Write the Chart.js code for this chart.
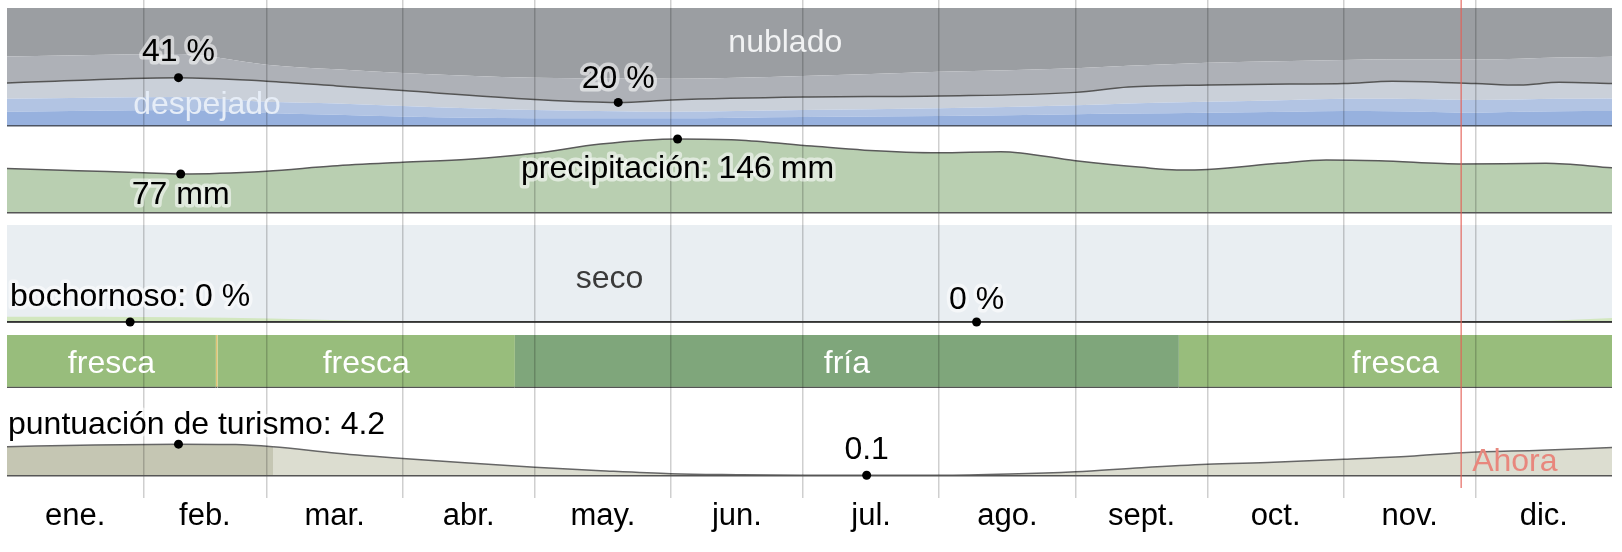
<!DOCTYPE html>
<html>
<head>
<meta charset="utf-8">
<script src="https://cdn.jsdelivr.net/npm/chart.js@4.4.1/dist/chart.umd.min.js"></script>
<style>
  html, body { margin: 0; background: #fff; }
  #wrap { position: relative; width: 1622px; height: 552px; }
</style>
</head>
<body>
<div id="wrap"><canvas id="chart"></canvas></div>
<script>
// --- eje de tiempo (día del año) ---
const monthNames = ['ene.', 'feb.', 'mar.', 'abr.', 'may.', 'jun.', 'jul.', 'ago.', 'sept.', 'oct.', 'nov.', 'dic.'];
const monthStarts = [0, 31, 59, 90, 120, 151, 181, 212, 243, 273, 304, 334, 365];

// --- nubosidad: % acumulado desde abajo ---
const cloudDays       = [0, 39, 59, 75, 90, 120, 139, 151, 181, 212, 243, 255, 273, 292, 304, 315, 334, 344, 353, 365];
const clearPct        = [12, 13.5, 11, 9.5, 8, 6.5, 6.5, 6.5, 7.6, 8.5, 10, 10.5, 11.3, 12, 12.7, 12.5, 11.3, 12, 12.5, 12.7];
const mostlyClearPct  = [23, 24.5, 20.5, 19, 17, 13.5, 12.5, 12, 13.5, 15, 17.5, 19, 20.5, 22, 23, 23, 22, 22.5, 23, 23.4];
const partlyCloudyPct = [36.5, 41, 38, 34, 30, 22.5, 20, 22, 24.5, 25.4, 28.5, 33, 34.7, 35.6, 36, 38, 36, 34.7, 37, 36];
const mostlyCloudyPct = [59, 61, 52, 48, 45, 41, 40.5, 40, 42.4, 46, 49, 51, 53.7, 55, 56, 56.5, 56.5, 57, 58, 58.8];
const overcastPct     = [100, 100];
const overcastDays    = [0, 365];

// --- precipitación (mm) ---
const precipDays = [0, 16, 31, 39.5, 59, 74, 90, 105, 120, 135, 152.5, 166, 183, 195, 212, 226, 243, 258, 266, 273, 289, 300, 312, 331, 350, 365];
const precipMm   = [88, 83.5, 79.5, 77, 82.5, 92.7, 100, 106, 117.7, 136, 146, 144, 132, 124, 119, 121, 103, 90, 85, 86, 98, 104.5, 103, 96.6, 98, 89];

// --- humedad (%) ---
const dryDays    = [0, 365];
const dryPct     = [100, 100];
const humidDays  = [0, 40, 60, 78, 90, 100, 340, 355, 365];
const comfortPct = [5.5, 5, 3.5, 1.5, 0.5, 0, 0, 2, 4];
const muggyPct   = [0, 0, 0, 0, 0, 0, 0, 0, 0];

// --- temperatura ---
const tempSegments = [[0, 47.5], [47.5, 47.9], [47.9, 115.5], [115.5, 266.5], [266.5, 365]];
const tempLabels   = ['fresca', '', 'fresca', 'fría', 'fresca'];
const tempColors   = ['#98bd7c', '#dfc474', '#98bd7c', '#7fa67b', '#98bd7c'];

// --- turismo ---
const tourismDays  = [0, 20, 39, 52, 60.5, 75, 90, 105, 120, 135, 151, 166, 181, 195.5, 212, 228, 243, 258, 273, 288, 304, 319, 331, 349, 365];
const tourismScore = [3.85, 4.1, 4.2, 4.15, 3.85, 3.0, 2.3, 1.7, 1.15, 0.7, 0.3, 0.17, 0.1, 0.1, 0.1, 0.26, 0.57, 1.1, 1.54, 1.8, 2.2, 2.6, 3.07, 3.4, 3.75];
const bestUntil = 60.5;
const nowDay = 330.7;

// etiquetas con punto
const callouts = [
  { axis: 'yCloud',  day: 39,    value: 41,  text: '41 %', dy: -27 },
  { axis: 'yCloud',  day: 139,   value: 20,  text: '20 %', dy: -25 },
  { axis: 'yPrecip', day: 39.5,  value: 77,  text: '77 mm', dy: 19 },
  { axis: 'yPrecip', day: 152.5, value: 146, text: 'precipitación: 146 mm', dy: 28 },
  { axis: 'yHum',    day: 28,    value: 0,   text: 'bochornoso: 0 %', dy: -27 },
  { axis: 'yHum',    day: 220.5, value: 0,   text: '0 %', dy: -24 },
  { axis: 'yTour',   day: 39,    value: 4.2, text: 'puntuación de turismo: 4.2', dy: -21 },
  { axis: 'yTour',   day: 195.5, value: 0.1, text: '0.1', dy: -27 }
];
// etiquetas de zona
const areaLabels = [
  { axis: 'yCloud', day: 177,  value: 72,   text: 'nublado',   color: '#f1f2f3' },
  { axis: 'yCloud', day: 45.5, value: 19.5, text: 'despejado', color: '#e6edf7' },
  { axis: 'yHum',   day: 137,  value: 46,   text: 'seco',      color: '#3a3a3a' }
];

const FAMILY = '"Liberation Sans", Arial, Helvetica, sans-serif';
const LABEL_FONT = '32px ' + FAMILY;
const TEXT_SHIFT = 2; // el centro visual de las letras cae algo por debajo de 'middle'

const pts = (xs, ys) => xs.map((x, i) => ({ x, y: ys[i] }));
const gridDays = monthStarts.slice(1, -1);
const monthMids = monthNames.map((m, i) => (monthStarts[i] + monthStarts[i + 1]) / 2);
const xTicks = gridDays.concat(monthMids).sort((a, b) => a - b);

function yPanel(min, max, weight, order, lineColor) {
  return {
    type: 'linear', min, max, position: 'left', stack: 'panels', stackWeight: weight, weight: order,
    afterBuildTicks: s => { s.ticks = [{ value: 0 }]; },
    afterFit: s => { s.width = 0; },
    ticks: { display: false },
    border: { display: false },
    grid: { z: 1, drawTicks: false, color: lineColor, lineWidth: 1.5 }
  };
}

function haloText(ctx, text, x, y) {
  ctx.lineWidth = 7;
  ctx.lineJoin = 'round';
  ctx.strokeStyle = 'rgba(255,255,255,0.55)';
  ctx.strokeText(text, x, y);
  ctx.fillStyle = '#000';
  ctx.fillText(text, x, y);
}

const overlay = {
  id: 'overlay',
  afterDraw(chart) {
    const ctx = chart.ctx, xs = chart.scales.x, area = chart.chartArea;
    ctx.save();
    ctx.font = LABEL_FONT;
    ctx.textBaseline = 'middle';

    // bandas de temperatura
    const meta = chart.getDatasetMeta(chart.data.datasets.findIndex(d => d.yAxisID === 'yTemp'));
    meta.data.forEach((el, i) => {
      if (!tempLabels[i]) return;
      const p = el.getProps(['x', 'base', 'y'], true);
      ctx.fillStyle = '#fff';
      ctx.textAlign = 'center';
      ctx.fillText(tempLabels[i], (p.x + p.base) / 2, p.y + TEXT_SHIFT + 1);
    });

    // etiquetas de zona
    areaLabels.forEach(l => {
      ctx.fillStyle = l.color;
      ctx.textAlign = 'center';
      ctx.fillText(l.text, xs.getPixelForValue(l.day), chart.scales[l.axis].getPixelForValue(l.value) + TEXT_SHIFT);
    });

    // ahora
    const nx = xs.getPixelForValue(nowDay);
    ctx.strokeStyle = 'rgba(228,95,85,0.75)';
    ctx.lineWidth = 1.5;
    ctx.beginPath();
    ctx.moveTo(nx, area.top);
    ctx.lineTo(nx, area.bottom - 10);
    ctx.stroke();
    ctx.fillStyle = '#e8877d';
    ctx.textAlign = 'left';
    ctx.fillText('Ahora', nx + 11, chart.scales.yTour.getPixelForValue(0) - 16 + TEXT_SHIFT);

    // puntos y valores
    callouts.forEach(c => {
      const px = xs.getPixelForValue(c.day);
      const py = chart.scales[c.axis].getPixelForValue(c.value);
      ctx.fillStyle = '#000';
      ctx.beginPath();
      ctx.arc(px, py, 4.5, 0, Math.PI * 2);
      ctx.fill();
      const w = ctx.measureText(c.text).width;
      const tx = Math.max(px, area.left + 1 + w / 2);
      ctx.textAlign = 'center';
      haloText(ctx, c.text, tx, py + c.dy + TEXT_SHIFT);
    });
    ctx.restore();
  }
};

new Chart(document.getElementById('chart'), {
  type: 'line',
  data: {
    datasets: [
      { yAxisID: 'yCloud', data: pts(cloudDays, clearPct), fill: 'origin', backgroundColor: '#97b1de', borderWidth: 0 },
      { yAxisID: 'yCloud', data: pts(cloudDays, mostlyClearPct), fill: '-1', backgroundColor: '#b2c4e3', borderWidth: 0 },
      { yAxisID: 'yCloud', data: pts(cloudDays, partlyCloudyPct), fill: '-1', backgroundColor: '#cad0d9', borderColor: '#555', borderWidth: 1.5 },
      { yAxisID: 'yCloud', data: pts(cloudDays, mostlyCloudyPct), fill: '-1', backgroundColor: '#aeb1b7', borderWidth: 0 },
      { yAxisID: 'yCloud', data: pts(overcastDays, overcastPct), fill: '-1', backgroundColor: '#9b9ea2', borderWidth: 0 },

      { yAxisID: 'yPrecip', data: pts(precipDays, precipMm), fill: 'origin', backgroundColor: '#b9cfb1', borderColor: '#5a5a5a', borderWidth: 1.5 },

      // el primero se dibuja encima: cómodo sobre seco
      { yAxisID: 'yHum', data: pts(humidDays, muggyPct), fill: false, borderColor: '#333', borderWidth: 1.5 },
      { yAxisID: 'yHum', data: pts(humidDays, comfortPct), fill: 'origin', backgroundColor: '#d2e7bf', borderWidth: 0 },
      { yAxisID: 'yHum', data: pts(dryDays, dryPct), fill: 'origin', backgroundColor: '#e9eef2', borderWidth: 0 },

      {
        type: 'bar', indexAxis: 'y', xAxisID: 'x', yAxisID: 'yTemp',
        data: tempSegments.map(s => ({ x: s, y: 'temp' })),
        backgroundColor: tempColors, grouped: false,
        categoryPercentage: 1, barPercentage: 1,
        borderSkipped: false, borderColor: '#555',
        borderWidth: { top: 0, right: 0, bottom: 1.5, left: 0 }
      },

      {
        yAxisID: 'yTour', data: pts(tourismDays, tourismScore), fill: 'origin',
        backgroundColor: '#dcddd0', borderColor: '#666', borderWidth: 1.5,
        segment: { backgroundColor: c => c.p0.parsed.x < bestUntil ? '#c5c6b3' : undefined }
      }
    ]
  },
  options: {
    responsive: true,
    maintainAspectRatio: false,
    animation: false,
    layout: { padding: { left: 7, right: 10, top: 0, bottom: 0 } },
    plugins: { legend: { display: false }, tooltip: { enabled: false } },
    elements: { point: { radius: 0 }, line: { cubicInterpolationMode: 'monotone' } },
    scales: {
      x: {
        type: 'linear', min: 0, max: 365, position: 'bottom',
        afterBuildTicks: s => { s.ticks = xTicks.map(v => ({ value: v })); },
        afterFit: s => { s.height = 54; },
        border: { display: false },
        grid: {
          z: 1, drawTicks: false, lineWidth: 1.5,
          color: c => (c.tick && gridDays.includes(c.tick.value)) ? 'rgba(0,0,0,0.19)' : 'rgba(0,0,0,0)'
        },
        ticks: {
          autoSkip: false, maxRotation: 0, minRotation: 0, padding: 3, color: '#000',
          font: { family: FAMILY, size: 31, lineHeight: 1 },
          callback: v => { const i = monthMids.indexOf(v); return i >= 0 ? monthNames[i] : ''; }
        }
      },
      yCloud: yPanel(0, 106.8, 126, 5, '#4d5563'),
      yPrecip: yPanel(-23.7, 171.6, 99, 4, '#555'),
      yHum: yPanel(-13.4, 100, 110, 3, '#333'),
      yTemp: {
        type: 'category', labels: ['temp'], offset: true, position: 'left',
        stack: 'panels', stackWeight: 53, weight: 2,
        afterFit: s => { s.width = 0; },
        ticks: { display: false }, border: { display: false }, grid: { display: false }
      },
      yTour: yPanel(-2.9, 11.6, 110, 1, '#555')
    }
  },
  plugins: [overlay]
});
</script>
</body>
</html>
